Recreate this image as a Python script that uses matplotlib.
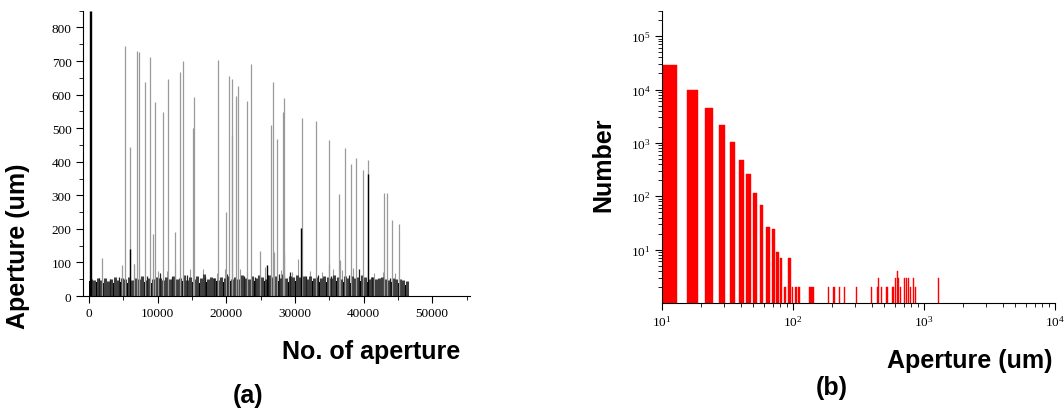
import numpy as np
import matplotlib.pyplot as plt
from matplotlib.ticker import MultipleLocator, LogLocator, LogFormatterMathtext, NullFormatter

plt.rcParams['font.family'] = 'Liberation Serif'
plt.rcParams['font.size'] = 9.5

# ---- (a) aperture along the fracture ----
# upper edge of the dense black band, sampled every 1000 apertures
band_x = [0, 1000, 2000, 3000, 4000, 5000, 6000, 7000, 8000, 9000,
          10000, 11000, 12000, 13000, 14000, 15000, 16000, 17000, 18000, 19000,
          20000, 21000, 22000, 23000, 24000, 25000, 26000, 27000, 28000, 29000,
          30000, 31000, 32000, 33000, 34000, 35000, 36000, 37000, 38000, 39000,
          40000, 41000, 42000, 43000, 44000, 45000, 46000, 46500, 46800]
band_top = [46, 42, 40, 41, 39, 42, 40, 43, 41, 39,
            42, 40, 43, 41, 44, 42, 40, 43, 41, 44,
            42, 45, 43, 41, 44, 46, 44, 47, 45, 43,
            46, 44, 42, 45, 43, 41, 44, 42, 40, 43,
            45, 41, 40, 42, 41, 39, 34, 24, 0]

# jagged fringe above the band, read every 500 apertures
fringe_x = [250, 750, 1250, 1750, 2250, 2750, 3250, 3750, 4250, 4750,
            5250, 5750, 6250, 6750, 7250, 7750, 8250, 8750, 9250, 9750,
            10250, 10750, 11250, 11750, 12250, 12750, 13250, 13750, 14250, 14750,
            15250, 15750, 16250, 16750, 17250, 17750, 18250, 18750, 19250, 19750,
            20250, 20750, 21250, 21750, 22250, 22750, 23250, 23750, 24250, 24750,
            25250, 25750, 26250, 26750, 27250, 27750, 28250, 28750, 29250, 29750,
            30250, 30750, 31250, 31750, 32250, 32750, 33250, 33750, 34250, 34750,
            35250, 35750, 36250, 36750, 37250, 37750, 38250, 38750, 39250, 39750,
            40250, 40750, 41250, 41750, 42250, 42750, 43250, 43750, 44250, 44750,
            45250, 45750, 46250]
fringe_h = [52, 47, 55, 49, 53, 46, 51, 56, 48, 54,
            50, 57, 49, 55, 52, 60, 48, 54, 51, 58,
            53, 49, 56, 51, 60, 50, 55, 62, 49, 57,
            52, 59, 54, 66, 50, 56, 53, 48, 58, 55,
            61, 52, 57, 50, 63, 55, 51, 59, 54, 62,
            57, 52, 64, 58, 61, 55, 66, 53, 60, 57,
            62, 56, 59, 52, 61, 55, 58, 53, 60, 56,
            54, 62, 57, 52, 59, 55, 61, 53, 58, 64,
            57, 52, 56, 50, 55, 58, 52, 49, 54, 51,
            50, 48, 44]
dark_jag_x = [1400, 3100, 4300, 8400, 10350, 12100, 14300, 16900, 18200, 20070,
              22600, 24100, 26100, 27600, 29200, 31600, 33400, 35200, 37800, 39300,
              41200, 43800]
dark_jag_h = [55, 52, 58, 60, 70, 56, 62, 58, 55, 65,
              60, 57, 63, 66, 72, 60, 63, 59, 62, 80,
              58, 55]

# tall isolated spikes (grey)
spike_x = [1800, 4760, 5150, 5880, 6600, 7000, 7290, 8070, 8800, 9230,
           9620, 10790, 11420, 12490, 13220, 13700, 15160, 15300, 18800, 19920,
           20310, 20750, 20840, 21430, 21620, 22980, 23570, 24880, 26480, 26770,
           26920, 27400, 28180, 28330, 28430, 31000, 33090, 34890, 34940, 36350,
           36540, 37320, 38140, 38820, 39840, 40670, 42950, 43340, 44170, 45140]
spike_h = [113, 91, 744, 444, 96, 729, 726, 638, 712, 185,
           578, 548, 645, 192, 668, 699, 500, 593, 702, 249,
           655, 479, 645, 595, 627, 580, 691, 135, 510, 638,
           130, 469, 547, 589, 125, 529, 521, 465, 96, 305,
           106, 440, 393, 410, 375, 406, 306, 306, 226, 214]
# black spikes
dark_x = [150, 250, 5980, 25850, 30850, 40670]
dark_h = [850, 850, 140, 91, 203, 362]
# small grey spikes poking above the fringe
small_x = [6600, 7190, 9960, 11400, 12540, 14720, 16660, 18600, 19830, 22000,
           22990, 25650, 27900, 29600, 30500, 32200, 33920, 35600, 36900, 38500,
           41500, 42800, 44600]
small_h = [96, 90, 75, 75, 96, 80, 80, 70, 80, 80,
           75, 85, 78, 72, 110, 74, 71, 80, 76, 82,
           70, 72, 68]

# ---- (b) aperture distribution ----
bin_lo = [10, 15.7, 21.5, 27.2, 33.0, 38.7, 44.3, 49.8, 56.0, 62.2,
          68.8, 75.0, 79.5, 85.0, 91.6, 99, 103, 109, 133, 186,
          204, 226, 245, 305, 394, 436, 447, 473, 513, 525,
          569, 582, 603, 620, 633, 653, 708, 728, 753, 780,
          828, 852, 1274]
bin_hi = [13.0, 18.8, 24.7, 30.6, 36.5, 42.3, 47.8, 53.7, 59.7, 66.7,
          72.5, 78.6, 82.8, 89.0, 96.6, 101, 107, 114, 144, 190,
          209, 230, 250, 311, 402, 444, 455, 481, 522, 534,
          579, 592, 613, 631, 644, 664, 720, 740, 766, 793,
          842, 866, 1296]
counts = [28200, 10000, 4550, 2130, 1050, 480, 267, 114, 69, 26,
          24, 9, 7, 2, 7, 2, 2, 2, 2, 2,
          2, 2, 2, 2, 2, 2, 3, 2, 2, 2,
          2, 2, 3, 4, 3, 2, 3, 3, 3, 2,
          3, 2, 3]

fig = plt.figure(figsize=(10.64, 4.10), dpi=100)

ax1 = fig.add_axes([0.0777, 0.2756, 0.364, 0.696])
ax1.vlines(small_x, 0, small_h, color='#9a9a9a', lw=0.8)
ax1.vlines(fringe_x, 0, fringe_h, color='#404040', lw=2.2)
ax1.vlines(dark_jag_x, 0, dark_jag_h, color='#202020', lw=0.9)
ax1.fill_between(band_x, band_top, step='mid', color='black', lw=0)
ax1.vlines(spike_x, 0, spike_h, color='#9a9a9a', lw=0.9)
ax1.vlines(dark_x, 0, dark_h, color='black', lw=1.0)
ax1.set_xlim(-950, 55500)
ax1.set_ylim(0, 850)
ax1.xaxis.set_major_locator(MultipleLocator(10000))
ax1.xaxis.set_minor_locator(MultipleLocator(5000))
ax1.yaxis.set_major_locator(MultipleLocator(100))
ax1.yaxis.set_minor_locator(MultipleLocator(50))

ax2 = fig.add_axes([0.622, 0.2585, 0.3694, 0.713])
lo = np.array(bin_lo)
hi = np.array(bin_hi)
ax2.bar(lo, counts, width=hi - lo, align='edge', color='#ff0000',
        edgecolor='#ff0000', lw=0.3)
ax2.set_xscale('log')
ax2.set_yscale('log')
ax2.set_xlim(10, 1e4)
ax2.set_ylim(1, 3e5)
ax2.xaxis.set_major_formatter(LogFormatterMathtext())
ax2.yaxis.set_major_formatter(LogFormatterMathtext())
ax2.yaxis.set_minor_locator(LogLocator(base=10, subs=np.arange(2, 10), numticks=10))
ax2.yaxis.set_minor_formatter(NullFormatter())
ax2.set_yticks([10, 100, 1000, 1e4, 1e5])

for ax in (ax1, ax2):
    ax.spines['top'].set_visible(False)
    ax.spines['right'].set_visible(False)
    ax.tick_params(which='major', direction='out', length=5, width=0.8, pad=3)
    ax.tick_params(which='minor', direction='out', length=3, width=0.6)

bold = dict(family='Liberation Sans', weight='bold', fontsize=18)
fig.text(0.017, 0.40, 'Aperture (um)', rotation=90, ha='center', va='center', **bold)
fig.text(0.433, 0.141, 'No. of aperture', ha='right', va='center', **bold)
fig.text(0.233, 0.034, '(a)', ha='center', va='center', **bold)
fig.text(0.567, 0.598, 'Number', rotation=90, ha='center', va='center', **bold)
fig.text(0.989, 0.12, 'Aperture (um)', ha='right', va='center', **bold)
fig.text(0.782, 0.054, '(b)', ha='center', va='center', **bold)

fig.savefig('out.png', dpi=100)
